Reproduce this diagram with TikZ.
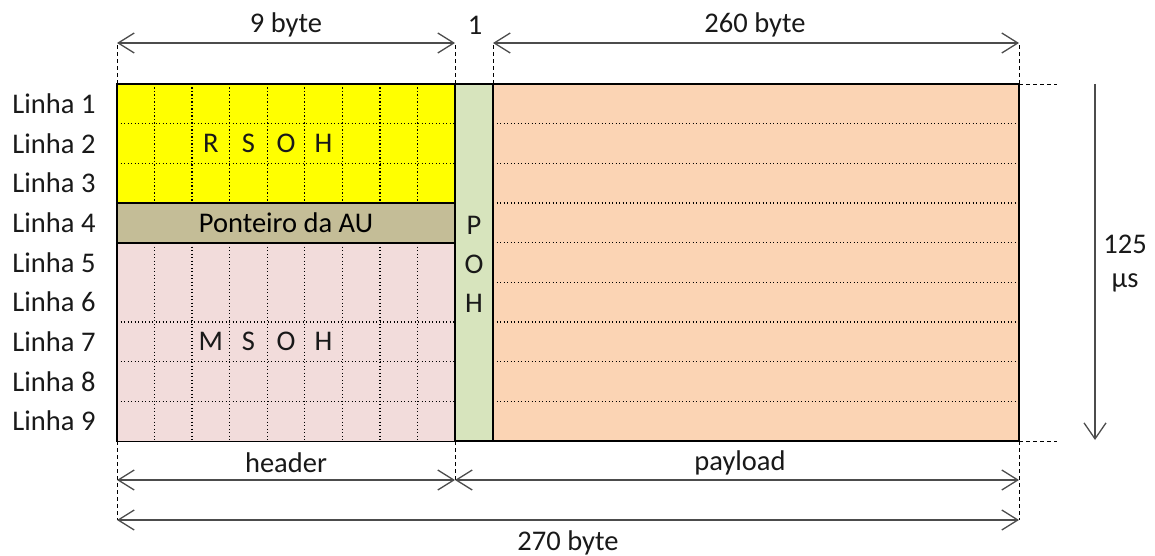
\documentclass[tikz,border=0pt]{standalone}
\usepackage{fontspec}
\setmainfont{Carlito}
\usetikzlibrary{arrows.meta}
\definecolor{rsohc}{HTML}{FFFF00}
\definecolor{ptrc}{HTML}{C4BD97}
\definecolor{msohc}{HTML}{F2DCDB}
\definecolor{pohc}{HTML}{D7E4BD}
\definecolor{payc}{HTML}{FBD4B4}
\begin{document}
\begin{tikzpicture}[x=1pt,y=-1pt,
  lbl/.style={font=\fontsize{28.5}{30}\selectfont, inner sep=0pt, text=black!90},
  blk/.style={draw=black, line width=1.4pt, inner sep=0pt, outer sep=0pt, anchor=north west, font=\fontsize{28.5}{30}\selectfont},
  ext/.style={draw=black, line width=0.9pt, dash pattern=on 4pt off 3pt},
  gridline/.style={draw=black, line width=1.4pt, dash pattern=on 1.3pt off 2.2pt},
  dimarrow/.style={draw=black!70, line width=1.3pt, {Straight Barb[length=16pt,width=20pt]}-{Straight Barb[length=16pt,width=20pt]}},
  timearrow/.style={draw=black!70, line width=1.3pt, -{Straight Barb[length=16pt,width=22pt]}}]
\useasboundingbox (0,0) rectangle (1155,556);
\def\rh{39.667}
\def\cw{37.556}
% blocks
\node[blk, fill=rsohc, minimum width=338pt, minimum height=119pt] (rsoh) at (117,84) {};
\node[blk, fill=ptrc, minimum width=338pt, minimum height=39.67pt] (ptr) at (117,203) {Ponteiro da AU};
\node[blk, fill=msohc, minimum width=338pt, minimum height=198.33pt] (msoh) at (117,243) {};
\node[blk, fill=pohc, minimum width=38pt, minimum height=357pt] (poh) at (455,84) {};
\node[blk, fill=payc, minimum width=526pt, minimum height=357pt] (pay) at (493,84) {};
% grid
\foreach \j in {1,...,8} {
  \draw[gridline] (117+\cw*\j,84) -- (117+\cw*\j,203);
  \draw[gridline] (117+\cw*\j,243) -- (117+\cw*\j,441);
}
\foreach \i in {1,2,6,7,8} \draw[gridline] (117,84+\rh*\i) -- (455,84+\rh*\i);
\foreach \i in {1,...,8} \draw[gridline] (493,84+\rh*\i) -- (1019,84+\rh*\i);
% redraw outlines over grid
\draw[line width=1.4pt] (rsoh.north west) rectangle (rsoh.south east);
\draw[line width=1.4pt] (msoh.north west) rectangle (msoh.south east);
\draw[line width=1.4pt] (ptr.north west) rectangle (ptr.south east);
\draw[line width=1.4pt] (pay.north west) rectangle (pay.south east);
% row labels
\foreach \i in {1,...,9} \node[lbl] (row\i) at (54,84+\rh*\i-\rh/2) {Linha \i};
% block letters
\foreach \l [count=\k from 2] in {R,S,O,H} \node[lbl] (r\l) at (117+\cw*\k+\cw/2,84+\rh*1.5) {\l};
\foreach \l [count=\k from 2] in {M,S,O,H} \node[lbl] (m\l) at (117+\cw*\k+\cw/2,84+\rh*6.5) {\l};
\node[lbl] (pP) at (474,225) {P};
\node[lbl] (pO) at (474,264) {O};
\node[lbl] (pH) at (474,303) {H};
% top dimensions
\coordinate (t1) at (117,43);
\coordinate (t2) at (455,43);
\coordinate (t3) at (493,43);
\coordinate (t4) at (1019,43);
\draw[ext] (rsoh.north west) -- (t1);
\draw[ext] (rsoh.north east) -- (t2);
\draw[ext] (pay.north west) -- (t3);
\draw[ext] (pay.north east) -- (t4);
\draw[dimarrow] (t1) -- (t2);
\draw[dimarrow] (t3) -- (t4);
\node[lbl] (l9) at (286,25) {9 byte};
\node[lbl] (l1) at (475,25) {1};
\node[lbl] (l260) at (755,25) {260 byte};
% bottom dimensions
\coordinate (b1) at (117,480);
\coordinate (b2) at (455,480);
\coordinate (b3) at (1019,480);
\coordinate (c1) at (117,520);
\coordinate (c2) at (1019,520);
\draw[ext] (msoh.south west) -- (c1);
\draw[ext] (msoh.south east) -- (b2);
\draw[ext] (pay.south east) -- (c2);
\draw[dimarrow] (b1) -- (b2);
\draw[dimarrow] (b2) -- (b3);
\draw[dimarrow] (c1) -- (c2);
\node[lbl] (lh) at (286,463) {header};
\node[lbl] (lp) at (740,463) {payload};
\node[lbl] (l270) at (568,543) {270 byte};
% right side
\coordinate (e1) at (1057,84);
\coordinate (e2) at (1057,441);
\draw[ext] (pay.north east) -- (e1);
\draw[ext] (pay.south east) -- (e2);
\coordinate (v1) at (1095,84);
\coordinate (v2) at (1095,440);
\draw[timearrow] (v1) -- (v2);
\node[lbl] (tv) at (1125,244) {125};
\node[lbl] (tu) at (1125,283) {µs};
\end{tikzpicture}
\end{document}
